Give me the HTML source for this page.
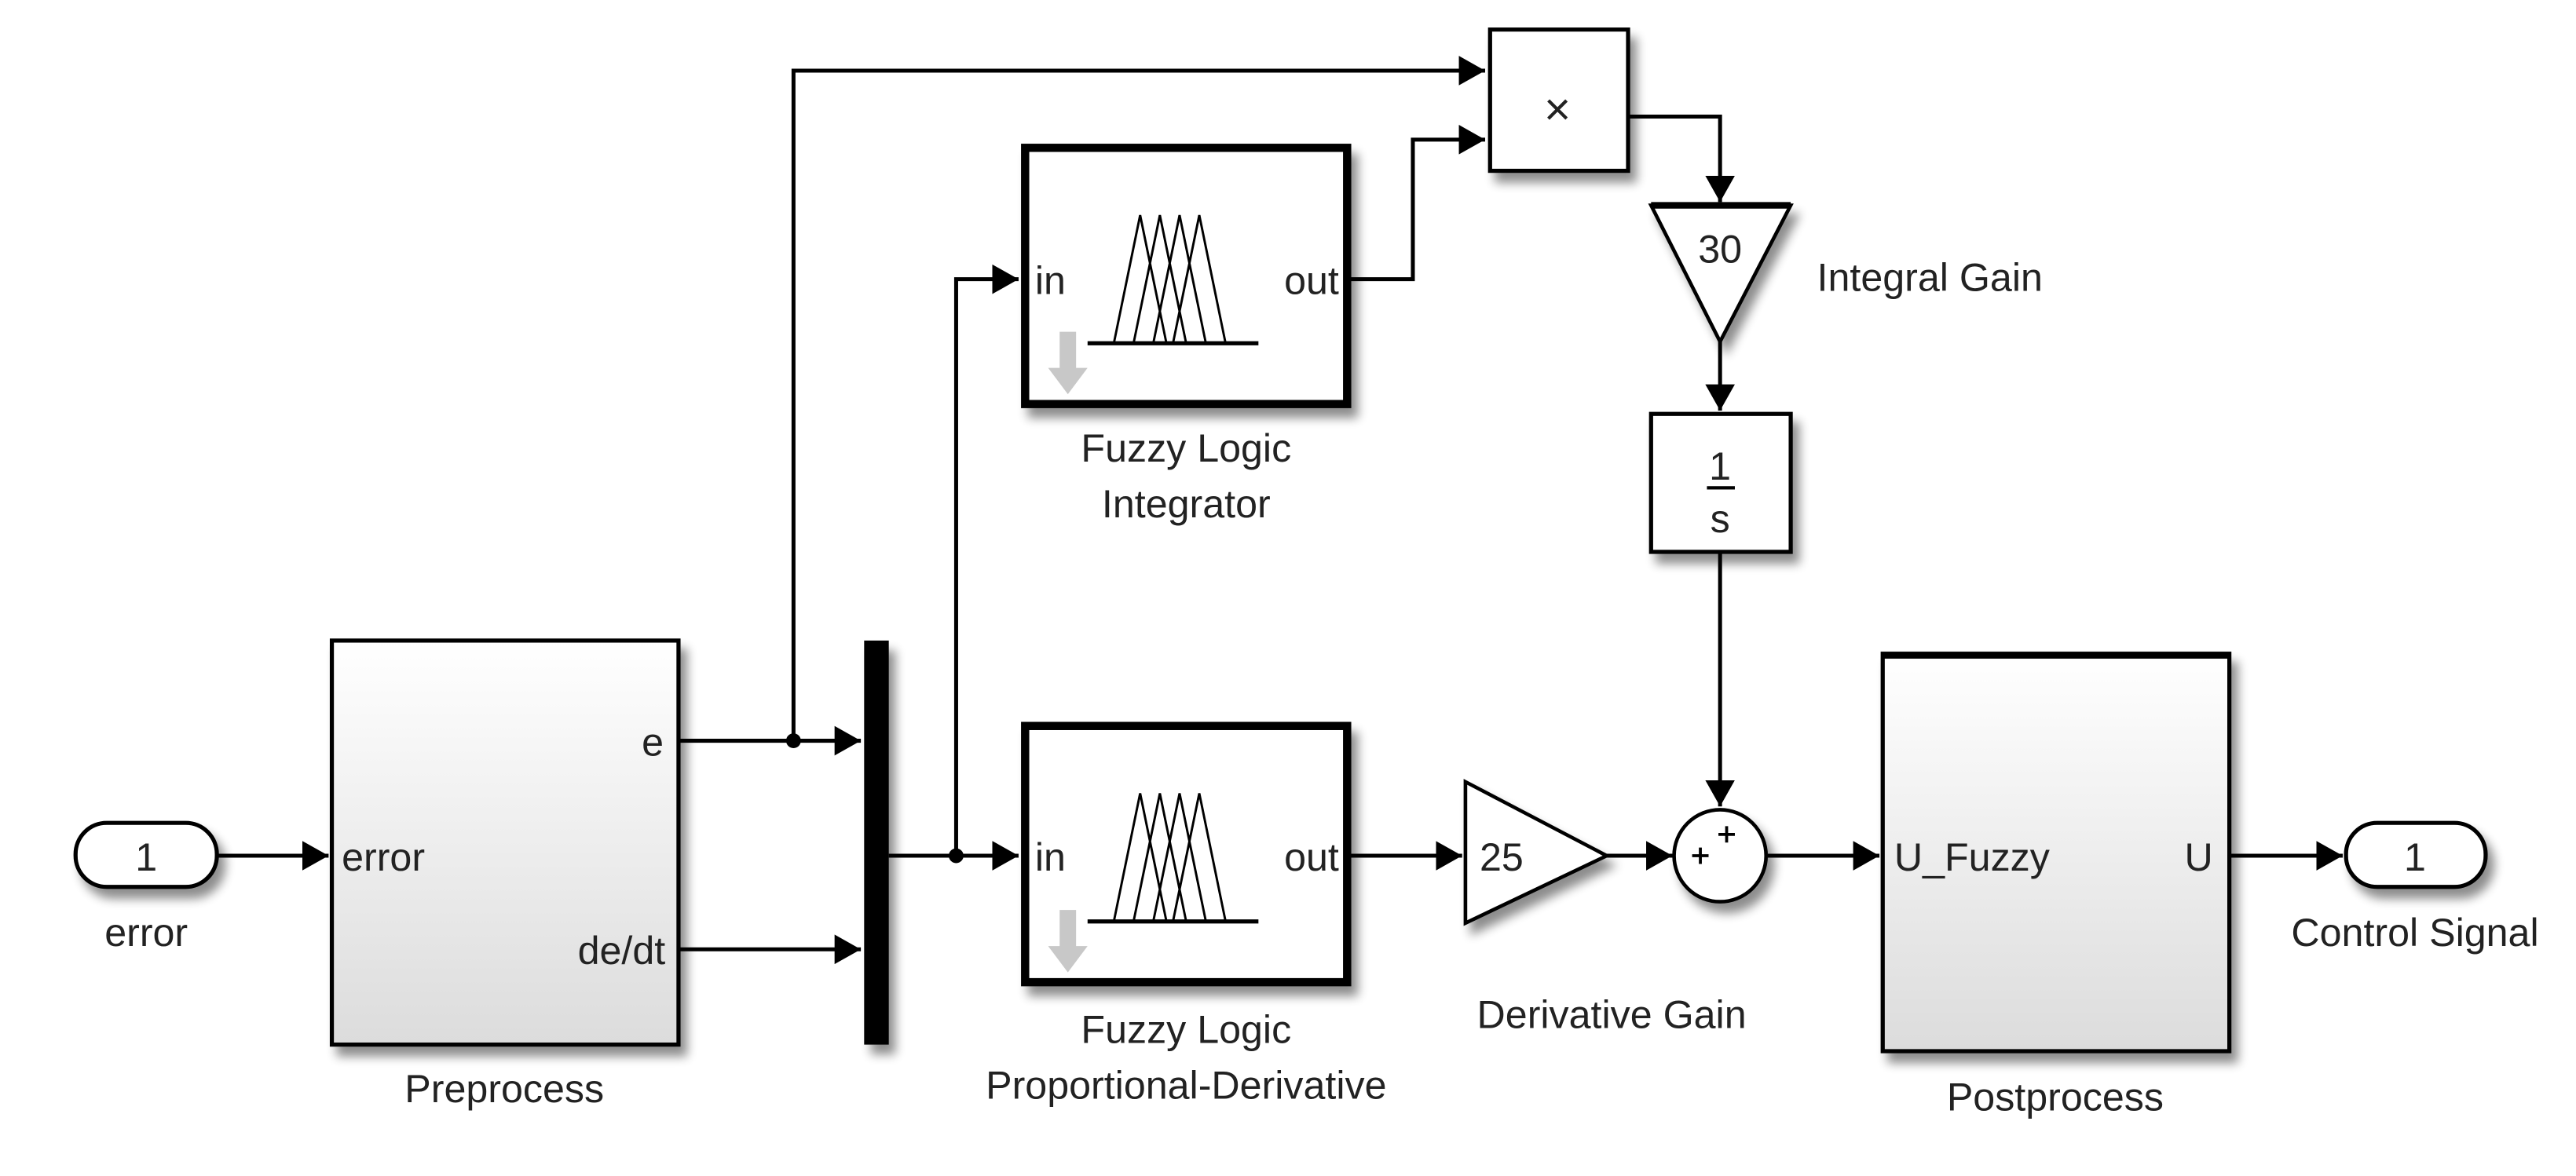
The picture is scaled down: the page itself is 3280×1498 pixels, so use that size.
<!DOCTYPE html>
<html><head><meta charset="utf-8"><style>
html,body{margin:0;padding:0;background:#fff;}
svg{display:block;}
text{font-family:"Liberation Sans",Arial,sans-serif;fill:#222;}
</style></head><body>
<svg width="3280" height="1498" viewBox="0 0 1568 716" preserveAspectRatio="none" xmlns="http://www.w3.org/2000/svg">
<defs>
<linearGradient id="g" x1="0" y1="0" x2="0" y2="1"><stop offset="0" stop-color="#ffffff"/><stop offset="1" stop-color="#dcdcdc"/></linearGradient>
<filter id="sh" x="-20%" y="-20%" width="150%" height="150%"><feGaussianBlur in="SourceAlpha" stdDeviation="3"/><feOffset dx="4" dy="6"/><feComponentTransfer><feFuncA type="linear" slope="0.45"/></feComponentTransfer><feMerge><feMergeNode/><feMergeNode in="SourceGraphic"/></feMerge></filter>
<marker id="a" viewBox="0 0 10 10" refX="10" refY="5" markerWidth="16" markerHeight="18" markerUnits="userSpaceOnUse" orient="auto" preserveAspectRatio="none"><path d="M0,0 L10,5 L0,10 z" fill="#000"/></marker>
</defs>
<g stroke="#000" stroke-width="2.4" fill="none">
<path d="M132,521 H200" marker-end="url(#a)"/>
<path d="M413,451 H524" marker-end="url(#a)"/>
<path d="M413,578 H524" marker-end="url(#a)"/>
<path d="M483,451 V43 H904" marker-end="url(#a)"/>
<path d="M541,521 H620" marker-end="url(#a)"/>
<path d="M582,521 V170 H620" marker-end="url(#a)"/>
<path d="M822,170 H860 V85 H904" marker-end="url(#a)"/>
<path d="M991,71 H1047 V123" marker-end="url(#a)"/>
<path d="M1047,208 V250" marker-end="url(#a)"/>
<path d="M1047,336 V491" marker-end="url(#a)"/>
<path d="M822,521 H890" marker-end="url(#a)"/>
<path d="M978,521 H1018" marker-end="url(#a)"/>
<path d="M1076,521 H1144" marker-end="url(#a)"/>
<path d="M1357,521 H1426" marker-end="url(#a)"/>
</g>
<circle cx="483" cy="451" r="4.5" fill="#000"/>
<circle cx="582" cy="521" r="4.5" fill="#000"/>
<g filter="url(#sh)" stroke="#000">
<rect x="46" y="501" width="86" height="39" rx="19" fill="#fff" stroke-width="2.5"/>
<rect x="202" y="390" width="211" height="246" fill="url(#g)" stroke-width="2.5"/>
<rect x="526" y="390" width="15" height="246" fill="#000" stroke-width="0"/>
<rect x="624" y="90" width="196" height="156" fill="#fff" stroke-width="5"/>
<rect x="624" y="442" width="196" height="156" fill="#fff" stroke-width="5"/>
<rect x="907" y="18" width="84" height="86" fill="#fff" stroke-width="2.5"/>
<path d="M1005,125 H1090 L1047,208 Z" fill="#fff" stroke-width="2.2"/>
<rect x="1005" y="252" width="85" height="84" fill="#fff" stroke-width="2.5"/>
<path d="M892,476 L978,521 L892,562 Z" fill="#fff" stroke-width="2.2"/>
<circle cx="1047" cy="521" r="28" fill="#fff" stroke-width="2.2"/>
<rect x="1146" y="398" width="211" height="242" fill="url(#g)" stroke-width="2.5"/>
<rect x="1428" y="501" width="85" height="39" rx="19" fill="#fff" stroke-width="2.5"/>
</g>
<path d="M1005,125 H1090" stroke="#000" stroke-width="4"/>
<path d="M1146,399 H1357" stroke="#000" stroke-width="4"/>
<g stroke="#000" stroke-width="1.4" fill="none">
<path d="M662,209 H766" stroke-width="2.5"/>
<path d="M678,209 L694,131 L710,209 M690,209 L706,131 L722,209 M702,209 L718,131 L734,209 M714,209 L730,131 L746,209"/>
<path d="M662,561 H766" stroke-width="2.5"/>
<path d="M678,561 L694,483 L710,561 M690,561 L706,483 L722,561 M702,561 L718,483 L734,561 M714,561 L730,483 L746,561"/>
</g>
<g fill="#c8c8c8">
<path d="M645,202 H655 V224 H662 L650,240 L638,224 H645 Z"/>
<path d="M645,554 H655 V576 H662 L650,592 L638,576 H645 Z"/>
</g>
<g stroke="#000" stroke-width="1.8">
<path d="M1046,508 H1056 M1051,503 V513"/>
<path d="M1030,521 H1040 M1035,516 V526"/>
</g>
<path d="M1039,297 H1056" stroke="#000" stroke-width="2"/>
<g font-size="24">
<text x="89" y="530" text-anchor="middle">1</text>
<text x="89" y="576" text-anchor="middle">error</text>
<text x="208" y="530">error</text>
<text x="404" y="460" text-anchor="end">e</text>
<text x="405" y="587" text-anchor="end">de/dt</text>
<text x="307" y="671" text-anchor="middle">Preprocess</text>
<text x="630" y="179">in</text>
<text x="815" y="179" text-anchor="end">out</text>
<text x="630" y="530">in</text>
<text x="815" y="530" text-anchor="end">out</text>
<text x="722" y="281" text-anchor="middle">Fuzzy Logic</text>
<text x="722" y="315" text-anchor="middle">Integrator</text>
<text x="722" y="635" text-anchor="middle">Fuzzy Logic</text>
<text x="722" y="669" text-anchor="middle">Proportional-Derivative</text>
<text x="948" y="76" text-anchor="middle" font-size="28">×</text>
<text x="1047" y="160" text-anchor="middle">30</text>
<text x="1106" y="177">Integral Gain</text>
<text x="1047" y="292" text-anchor="middle">1</text>
<text x="1047" y="324" text-anchor="middle">s</text>
<text x="914" y="530" text-anchor="middle">25</text>
<text x="981" y="626" text-anchor="middle">Derivative Gain</text>
<text x="1153" y="530">U_Fuzzy</text>
<text x="1347" y="530" text-anchor="end">U</text>
<text x="1251" y="676" text-anchor="middle">Postprocess</text>
<text x="1470" y="530" text-anchor="middle">1</text>
<text x="1470" y="576" text-anchor="middle">Control Signal</text>
</g>
</svg>
</body></html>
